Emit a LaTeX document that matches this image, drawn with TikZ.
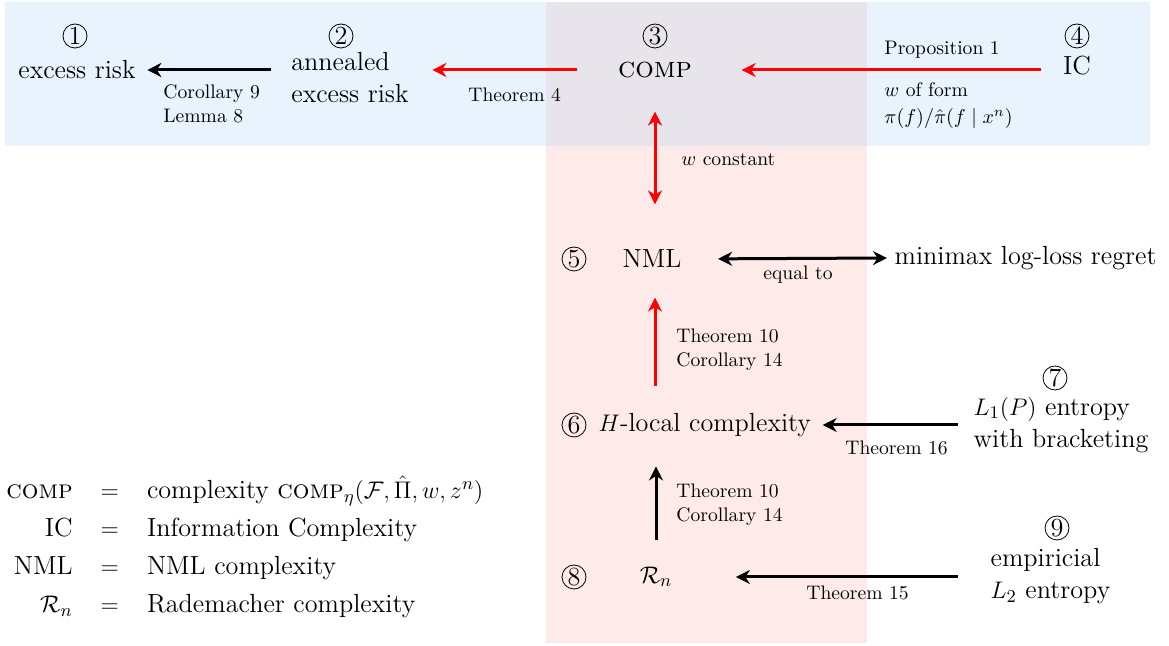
\documentclass[tikz,border=0pt,11pt]{standalone}
\usepackage{amsmath}
\usetikzlibrary{arrows.meta}

\definecolor{bandblue}{RGB}{232,243,254}
\definecolor{bandpink}{RGB}{254,234,233}
\definecolor{bandboth}{RGB}{232,228,235}
\newcommand{\bigtext}{\fontsize{13.1}{16}\selectfont}
\newcommand{\smalltext}{\fontsize{9.8}{12}\selectfont}
\newcommand{\compname}{{\fontsize{14.6}{16}\selectfont\textsc{comp}}}

\begin{document}
\begin{tikzpicture}[x=0.5pt,y=-0.5pt,font=\bigtext,
  num/.style={circle,draw,line width=0.4pt,minimum size=12pt,inner sep=0pt},
  lab/.style={font=\smalltext,inner sep=0pt,anchor=west,align=left},
  imp/.style={-{Stealth[length=7pt,width=7pt]},line width=1.5pt},
  eqv/.style={{Stealth[length=7pt,width=7pt]}-{Stealth[length=7pt,width=7pt]},line width=1.5pt}]
\useasboundingbox (0,0) rectangle (1169,646);
% bands
\fill[bandblue] (5,2) rectangle (1150,146);
\fill[bandpink] (546,2) rectangle (867,643);
\fill[bandboth] (546,2) rectangle (867,146);

% top row
\node[num] (c1) at (75,36) {1};
\node (risk) at (77,70) {excess risk};
\node[num] (c2) at (341,36) {2};
\node[align=left] (anneal) at (350,78) {annealed\\excess risk};
\node[num] (c3) at (655,36) {3};
\node (comp) at (655,70) {\compname};
\node[num] (c4) at (1077,36) {4};
\node (ic) at (1077,66) {IC};

% middle column
\node[num] (c5) at (574,259) {5};
\node (nml) at (652,259) {NML};
\node[anchor=west] (regret) at (887,258) {minimax log-loss regret};
\node[num] (c6) at (574,425) {6};
\node[anchor=west] (local) at (591,425) {$H$-local complexity};
\node[num] (c7) at (1055,378) {7};
\node[align=left,anchor=west] (brack) at (966,425) {$L_1(P)$ entropy\\with bracketing};
\node[num] (c8) at (574,577) {8};
\node (rad) at (656,577) {$\mathcal{R}_n$};
\node[num] (c9) at (1057,528) {9};
\node[align=left,anchor=west] (emp) at (983,576) {empiricial\\$L_2$ entropy};

% arrows
\draw[imp,shorten <=6.5pt,shorten >=2pt] (anneal.west |- risk) -- (risk.east);
\draw[imp,red,shorten <=16.5pt,shorten >=8pt] (comp.west) -- (anneal.east |- comp.west);
\draw[imp,red,shorten <=7pt,shorten >=21pt] (ic.west |- comp.east) -- (comp.east);
\draw[eqv,red,shorten <=13pt,shorten >=19pt] (comp.south) -- (nml.north -| comp.south);
\draw[eqv,shorten <=14.5pt] (nml.east) -- (regret.west);
\draw[imp,red,shorten <=10pt,shorten >=11pt] (local.north -| comp) -- (nml.south -| comp);
\draw[imp,shorten <=4pt,shorten >=2pt] (brack.west |- local.east) -- (local.east);
\draw[imp,shorten <=9.5pt,shorten >=11pt] (rad.north) -- (local.south -| rad.north);
\draw[imp,shorten <=12.5pt,shorten >=28pt] (emp.west |- rad.east) -- (rad.east);

% labels
\node[lab] (l1) at (163,104) {Corollary 9\\Lemma 8};
\node[lab] (l2) at (468,95) {Theorem 4};
\node[lab] (l3) at (884,50) {Proposition 1};
\node[lab] (l4) at (884,106) {$w$ of form\\[1.5pt]$\pi(f)/\hat{\pi}(f\mid x^n)$};
\node[lab] (l5) at (681,160) {$w$ constant};
\node[lab,anchor=center] (l6) at (798,275) {equal to};
\node[lab] (l7) at (676,350) {Theorem 10\\Corollary 14};
\node[lab] (l8) at (845,448) {Theorem 16};
\node[lab] (l9) at (676,505) {Theorem 10\\Corollary 14};
\node[lab] (l10) at (806,593) {Theorem 15};

% legend
\node[anchor=west,inner sep=0pt] (legend) at (6,548) {%
  \renewcommand{\arraystretch}{1.19}\setlength{\arraycolsep}{7pt}%
  $\begin{array}{@{}rcl@{}}
  \textsc{comp} & = & \text{complexity } \textsc{comp}_\eta(\mathcal{F},\hat{\Pi},w,z^n)\\
  \text{IC} & = & \text{Information Complexity}\\
  \text{NML} & = & \text{NML complexity}\\
  \mathcal{R}_n & = & \text{Rademacher complexity}
  \end{array}$};
\end{tikzpicture}
\end{document}
